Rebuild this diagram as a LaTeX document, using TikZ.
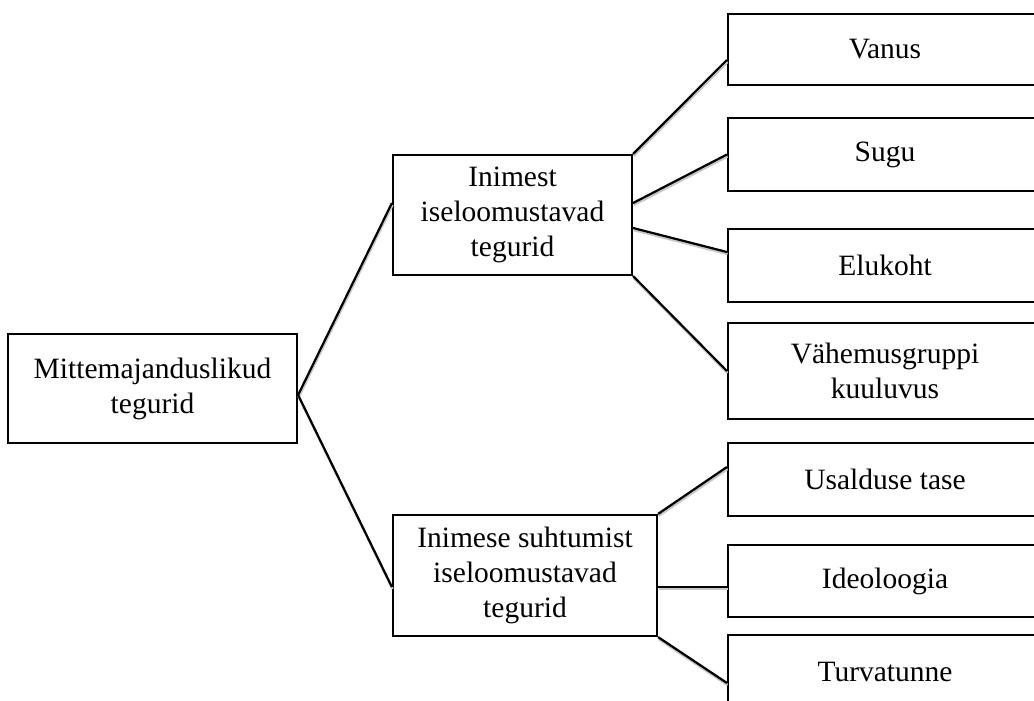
\documentclass[tikz,border=0pt]{standalone}
\usepackage{fontspec}
\setmainfont{Liberation Serif}
\begin{document}
\begin{tikzpicture}[x=1pt,y=-1pt,
  box/.style={draw=black, line width=2.2pt, fill=white, rectangle, inner sep=0pt, align=center,
    font=\fontsize{29.5}{35}\selectfont},
  rbox/.style={box, minimum width=314pt},
  conn/.style={draw=black, line width=2.2pt},
  connshadow/.style={draw=black!22, line width=2.4pt, transform canvas={shift={(0.6pt,-2pt)}}}
]
\useasboundingbox (0,0) rectangle (1034,701);
\clip (0,0) rectangle (1034,701);
\fill[white] (0,0) rectangle (1034,701);

\node[box, minimum width=289pt, minimum height=109pt] (mitte) at (152.5,388.5) {Mittemajanduslikud\\tegurid};
\node[box, minimum width=239pt, minimum height=120pt] (inim) at (512.5,215) {Inimest\\iseloomustavad\\tegurid};
\node[box, minimum width=264pt, minimum height=121pt] (inimese) at (525,575.5) {Inimese suhtumist\\iseloomustavad\\tegurid};

\node[rbox, minimum height=71pt] (vanus) at (885,49.5) {Vanus};
\node[rbox, minimum height=73pt] (sugu) at (885,154.5) {Sugu};
\node[rbox, minimum height=73pt] (elukoht) at (885,265.5) {Elukoht};
\node[rbox, minimum height=96pt] (vah) at (885,371) {Vähemusgruppi\\kuuluvus};
\node[rbox, minimum height=73pt] (usal) at (885,479.5) {Usalduse tase};
\node[rbox, minimum height=72pt] (ideo) at (885,581) {Ideoloogia};
\node[rbox, minimum height=73pt] (turv) at (885,671.5) {Turvatunne};

\foreach \s in {connshadow, conn} {
  \draw[\s] ([yshift=12pt]inim.west) -- ([yshift=-6.5pt]mitte.east) -- ([yshift=-11.5pt]inimese.west);
  \draw[\s] (inim.north east) -- ([yshift=-10.5pt]vanus.west);
  \draw[\s] ([yshift=12pt]inim.east) -- (sugu.west);
  \draw[\s] ([yshift=-13pt]inim.east) -- ([yshift=13.5pt]elukoht.west);
  \draw[\s] (inim.south east) -- (vah.west);
  \draw[\s] (inimese.north east) -- ([yshift=12.5pt]usal.west);
  \draw[\s] ([yshift=-11.5pt]inimese.east) -- ([yshift=-6pt]ideo.west);
  \draw[\s] (inimese.south east) -- ([yshift=-11.5pt]turv.west);
}
\end{tikzpicture}
\end{document}
